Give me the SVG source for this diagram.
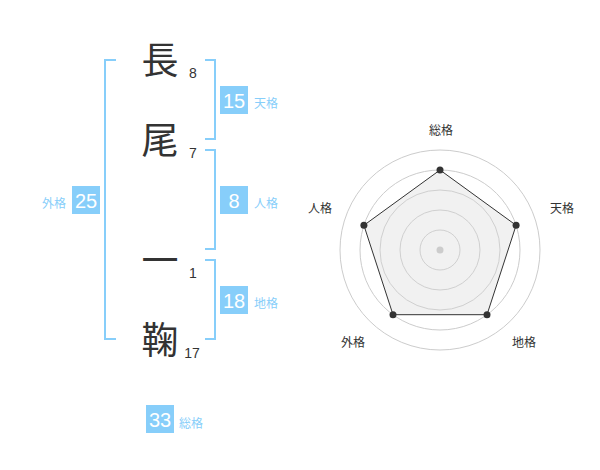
<svg xmlns="http://www.w3.org/2000/svg" width="600" height="470" viewBox="0 0 600 470">
<style>
.kanji{font-family:"Noto Sans CJK JP","Noto Sans CJK SC",sans-serif;font-size:37px;fill:#333;text-anchor:middle}
.stroke{font-family:"Liberation Sans",Arial,sans-serif;font-size:14px;fill:#333;text-anchor:middle}
.box{fill:#87CEFA}
.boxnum{font-family:"Liberation Sans",Arial,sans-serif;font-size:20px;fill:#fff;text-anchor:middle}
.lbl{font-family:"Noto Sans CJK JP","Noto Sans CJK SC",sans-serif;font-size:12px;fill:#87CEFA}
.br{fill:none;stroke:#87CEFA;stroke-width:2}
.ring{fill:none;stroke:#ccc;stroke-width:1}
.axis{font-family:"Noto Sans CJK JP","Noto Sans CJK SC",sans-serif;font-size:12px;fill:#333;text-anchor:middle}
.pt{fill:#333}
</style>
<g id="name">
<text class="kanji" x="160" y="74">長</text>
<text class="kanji" x="160" y="154">尾</text>
<text class="kanji" x="160" y="274">一</text>
<text class="kanji" x="160" y="354">鞠</text>
<text class="stroke" x="193" y="78">8</text>
<text class="stroke" x="193" y="158">7</text>
<text class="stroke" x="193" y="278">1</text>
<text class="stroke" x="192" y="358">17</text>
</g>
<g id="connectors">
<path class="br" d="M116,60 H105 V339 H116"/>
<path class="br" d="M205,60 H215 V139 H205"/>
<path class="br" d="M205,150 H215 V249 H205"/>
<path class="br" d="M205,260 H215 V339 H205"/>
</g>
<g id="tenkaku">
<rect class="box" x="220" y="86" width="28" height="28"/>
<text class="boxnum" x="234" y="108">15</text>
<text class="lbl" x="254" y="108">天格</text>
</g>
<g id="jinkaku">
<rect class="box" x="220" y="186" width="28" height="28"/>
<text class="boxnum" x="234" y="208">8</text>
<text class="lbl" x="254" y="208">人格</text>
</g>
<g id="chikaku">
<rect class="box" x="220" y="286" width="28" height="28"/>
<text class="boxnum" x="234" y="308">18</text>
<text class="lbl" x="254" y="308">地格</text>
</g>
<g id="gaikaku">
<rect class="box" x="72" y="186" width="28" height="28"/>
<text class="boxnum" x="86" y="208">25</text>
<text class="lbl" x="66" y="208" text-anchor="end">外格</text>
</g>
<g id="soukaku">
<rect class="box" x="146" y="405" width="28" height="28"/>
<text class="boxnum" x="160" y="427">33</text>
<text class="lbl" x="179" y="428">総格</text>
</g>
<g id="radar">
<circle class="ring" cx="440" cy="250" r="20"/>
<circle class="ring" cx="440" cy="250" r="40"/>
<circle class="ring" cx="440" cy="250" r="60"/>
<circle class="ring" cx="440" cy="250" r="80"/>
<circle class="ring" cx="440" cy="250" r="100"/>
<polygon points="440,170 516.1,225.3 487,314.7 393,314.7 363.9,225.3" fill="#d8d8d8" fill-opacity="0.35" stroke="#333" stroke-width="1"/>
<circle cx="440" cy="250" r="3.5" fill="#ccc"/>
<circle class="pt" cx="440" cy="170" r="3.5"/>
<circle class="pt" cx="516.1" cy="225.3" r="3.5"/>
<circle class="pt" cx="487" cy="314.7" r="3.5"/>
<circle class="pt" cx="393" cy="314.7" r="3.5"/>
<circle class="pt" cx="363.9" cy="225.3" r="3.5"/>
<text class="axis" x="441" y="135">総格</text>
<text class="axis" x="562" y="213">天格</text>
<text class="axis" x="320" y="213">人格</text>
<text class="axis" x="353" y="347">外格</text>
<text class="axis" x="524" y="347">地格</text>
</g>
</svg>
